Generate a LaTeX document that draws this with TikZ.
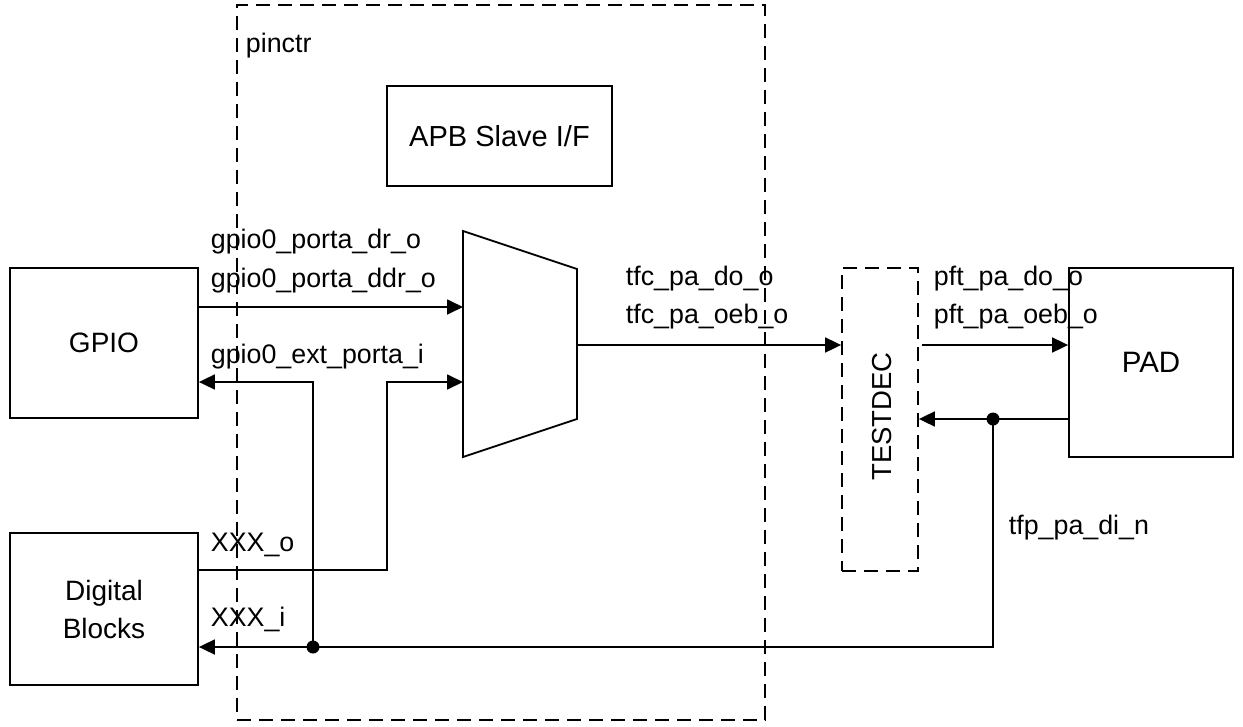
\documentclass[tikz,border=0pt]{standalone}
\usepackage{fontspec}
\setmainfont{Liberation Sans}
\usetikzlibrary{arrows.meta}
\begin{document}
\begin{tikzpicture}[x=1pt,y=-1pt,
  line width=1.8pt,
  box/.style={draw, line width=1.8pt, inner sep=0pt, font=\fontsize{28}{38}\selectfont, align=center},
  dbox/.style={draw, dash pattern=on 14pt off 8pt, line width=1.8pt, inner sep=0pt},
  lbl/.style={anchor=base west, inner sep=0pt, font=\fontsize{26.8}{30}\selectfont},
  sig/.style={-{Triangle[length=16pt,width=15pt]}},
  dotn/.style={circle, fill, inner sep=0pt, minimum size=13pt}
]
\useasboundingbox (0,0) rectangle (1243,726);
% containers
\node[dbox, minimum width=528pt, minimum height=715pt] (pinctr) at (501,362.5) {};
\node[lbl] (pinlbl) at (245,52) {pinctr};
\node[box, minimum width=225pt, minimum height=100pt, font=\fontsize{29}{38}\selectfont] (apb) at (499.5,136) {APB Slave I/F};
\node[box, minimum width=188pt, minimum height=150pt] (gpio) at (104,343) {GPIO};
\node[box, minimum width=188pt, minimum height=152pt] (dig) at (104,609) {Digital\\Blocks};
\node[box, minimum width=164pt, minimum height=189pt, font=\fontsize{29.5}{38}\selectfont] (pad) at (1151,362.5) {PAD};
\node[dbox, minimum width=76pt, minimum height=303pt] (tdec) at (880,419.5) {};
\node[rotate=90, inner sep=0pt, font=\fontsize{27.5}{30}\selectfont] (tdeclbl) at (882,416.5) {TESTDEC};
% mux
\draw (463,231) -- (577,269) -- (577,419) -- (463,457) -- cycle;
\coordinate (m1) at (463,307);
\coordinate (m2) at (463,382);
\coordinate (mo) at (577,345);
\coordinate (k) at (387,570);
\coordinate (j1) at (313,647);
\coordinate (j2) at (993,419);
% connectors
\draw[sig] (gpio.east |- m1) -- (m1);
\draw[sig] (j1) |- (gpio.east |- m2);
\draw[sig] (dig.east |- k) -- (k) |- (m2);
\draw[sig] (mo) -- (tdec.west |- mo);
\draw[sig] ([xshift=3pt]tdec.east |- mo) -- (pad.west |- mo);
\draw[sig] (pad.west |- j2) -- (tdec.east |- j2);
\draw[sig] (j2) |- (dig.east |- j1);
\node[dotn] (d1) at (j1) {};
\node[dotn] (d2) at (j2) {};
% labels
\node[lbl] (l1) at (210,248) {gpio0\_porta\_dr\_o};
\node[lbl] (l2) at (210,287) {gpio0\_porta\_ddr\_o};
\node[lbl] (l3) at (210,363) {gpio0\_ext\_porta\_i};
\node[lbl] (l4) at (210,551) {XXX\_o};
\node[lbl] (l5) at (210,626) {XXX\_i};
\node[lbl] (l6) at (625,285) {tfc\_pa\_do\_o};
\node[lbl] (l7) at (625,323) {tfc\_pa\_oeb\_o};
\node[lbl] (l8) at (933,285) {pft\_pa\_do\_o};
\node[lbl] (l9) at (933,323) {pft\_pa\_oeb\_o};
\node[lbl] (l10) at (1008,534) {tfp\_pa\_di\_n};
\end{tikzpicture}
\end{document}
